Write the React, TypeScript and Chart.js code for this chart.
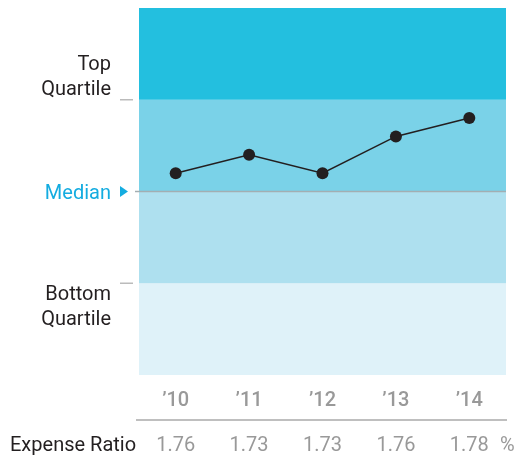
import React, { useEffect, useRef } from "react";
import { Chart, registerables } from "chart.js";

Chart.register(...registerables);

const years = ["\u201910", "\u201911", "\u201912", "\u201913", "\u201914"];
const percentile = [55, 60, 55, 65, 70];
const expenseRatio = ["1.76", "1.73", "1.73", "1.76", "1.78"];
const quartileBounds = [0, 25, 50, 75, 100];
const bandColors = ["#DFF2F9", "#AEE0EF", "#7AD2E8", "#23BFDF"];

const FONT = "Roboto, 'Noto Sans', sans-serif";

const decorPlugin = {
  id: "decor",
  beforeDatasetsDraw(chart: any) {
    const { ctx, chartArea, scales } = chart;
    const y = scales.y;
    ctx.save();
    for (let i = 0; i < 4; i++) {
      const top = y.getPixelForValue(quartileBounds[i + 1]);
      const bot = y.getPixelForValue(quartileBounds[i]);
      ctx.fillStyle = bandColors[i];
      ctx.fillRect(chartArea.left, top, chartArea.right - chartArea.left, bot - top);
    }
    const my = y.getPixelForValue(50);
    ctx.strokeStyle = "#A3AEB2";
    ctx.lineWidth = 1.5;
    ctx.beginPath();
    ctx.moveTo(chartArea.left - 4, my);
    ctx.lineTo(chartArea.right, my);
    ctx.stroke();
    ctx.restore();
  },
  afterDraw(chart: any) {
    const { ctx, chartArea, scales } = chart;
    const y = scales.y;
    const x = scales.x;
    ctx.save();
    ctx.strokeStyle = "#BBBBBB";
    ctx.lineWidth = 1.5;
    [75, 25].forEach((v) => {
      const py = y.getPixelForValue(v);
      ctx.beginPath();
      ctx.moveTo(chartArea.left - 19, py);
      ctx.lineTo(chartArea.left - 6, py);
      ctx.stroke();
    });
    ctx.font = `20px ${FONT}`;
    ctx.textAlign = "right";
    ctx.textBaseline = "alphabetic";
    ctx.fillStyle = "#231F20";
    const lx = chartArea.left - 28;
    ctx.fillText("Top", lx, 70);
    ctx.fillText("Quartile", lx, 95);
    ctx.fillText("Bottom", lx, 300);
    ctx.fillText("Quartile", lx, 325);
    const my = y.getPixelForValue(50);
    ctx.fillStyle = "#14ACE0";
    ctx.fillText("Median", lx, my + 7);
    ctx.beginPath();
    ctx.moveTo(chartArea.left - 19, my - 5.5);
    ctx.lineTo(chartArea.left - 11, my);
    ctx.lineTo(chartArea.left - 19, my + 5.5);
    ctx.closePath();
    ctx.fill();
    ctx.textAlign = "center";
    ctx.fillStyle = "#999999";
    ctx.font = `500 20px ${FONT}`;
    years.forEach((lab, i) => {
      ctx.fillText(lab, x.getPixelForValue(i), 406);
    });
    ctx.strokeStyle = "#AAAAAA";
    ctx.lineWidth = 1.5;
    ctx.beginPath();
    ctx.moveTo(chartArea.left - 3, 420);
    ctx.lineTo(chartArea.right + 1, 420);
    ctx.stroke();
    ctx.font = `20px ${FONT}`;
    ctx.fillStyle = "#999999";
    expenseRatio.forEach((v, i) => {
      ctx.fillText(v, x.getPixelForValue(i), 451);
    });
    ctx.textAlign = "left";
    ctx.fillText("%", chartArea.right - 6, 451);
    ctx.fillStyle = "#231F20";
    ctx.fillText("Expense Ratio", 10, 451);
    ctx.restore();
  },
};

export default function App() {
  const ref = useRef<HTMLCanvasElement>(null);
  useEffect(() => {
    if (!ref.current) return;
    const chart = new Chart(ref.current, {
      type: "line",
      data: {
        labels: years,
        datasets: [
          {
            data: percentile,
            borderColor: "#231F20",
            backgroundColor: "#231F20",
            borderWidth: 1.5,
            pointRadius: 6,
            pointHoverRadius: 6,
            pointBackgroundColor: "#231F20",
            pointBorderWidth: 0,
            tension: 0,
          },
        ],
      },
      options: {
        animation: false,
        responsive: false,
        maintainAspectRatio: false,
        events: [],
        layout: { autoPadding: false, padding: { left: 139, top: 8, right: 10, bottom: 80 } },
        plugins: { legend: { display: false }, tooltip: { enabled: false } },
        scales: {
          x: { display: false, offset: true },
          y: { display: false, min: 0, max: 100 },
        },
      },
      plugins: [decorPlugin],
    });
    return () => chart.destroy();
  }, []);
  return (
    <div style={{ position: "fixed", left: 0, top: 0, width: 516, height: 455 }}>
      <canvas ref={ref} width={516} height={455} style={{ display: "block" }} />
    </div>
  );
}
